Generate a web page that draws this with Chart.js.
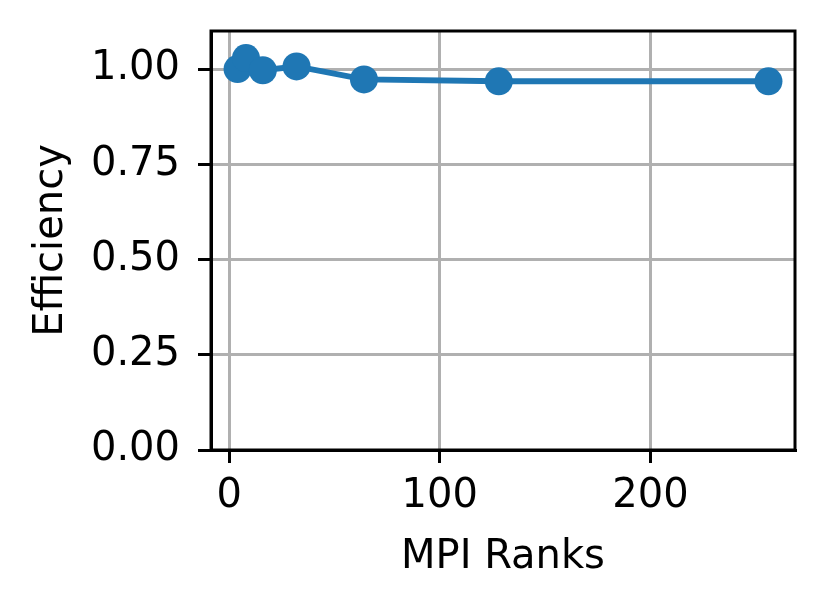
<!DOCTYPE html>
<html lang="en">
<head>
<meta charset="UTF-8">
<title>Efficiency vs MPI Ranks</title>
<script src="https://cdn.jsdelivr.net/npm/chart.js"></script>
<style>
    html, body { margin: 0; padding: 0; background: white; }
    #wrap { width: 823px; height: 610px; }
</style>
</head>
<body>
<div id="wrap"><canvas id="chart" width="823" height="610"></canvas></div>
<script>
// data
const ranks = [4, 8, 16, 32, 64, 128, 256];
const efficiency = [1.000, 1.029, 0.997, 1.007, 0.973, 0.968, 0.968];
const xTicks = [0, 100, 200];
const yTicks = [0, 0.25, 0.5, 0.75, 1.0];

const FONT = { family: 'DejaVu Sans', size: 40 };

// matplotlib style box around the plot area
const boxPlugin = {
    id: 'box',
    afterDatasetsDraw(chart) {
        const a = chart.chartArea;
        const ctx = chart.ctx;
        ctx.save();
        ctx.strokeStyle = '#000';
        ctx.lineWidth = 3;
        ctx.strokeRect(a.left, a.top, a.right - a.left, a.bottom - a.top);
        ctx.restore();
    }
};

new Chart(document.getElementById('chart').getContext('2d'), {
    type: 'line',
    data: {
        datasets: [{
            data: ranks.map((r, i) => ({ x: r, y: efficiency[i] })),
            borderColor: '#1f77b4',
            backgroundColor: '#1f77b4',
            borderWidth: 6,
            pointRadius: 14,
            pointBorderWidth: 0,
            pointHoverRadius: 14,
            tension: 0,
            clip: false
        }]
    },
    options: {
        responsive: false,
        animation: false,
        events: [],
        layout: { padding: { top: 31, right: 28, left: 0, bottom: 0 } },
        plugins: { legend: { display: false }, tooltip: { enabled: false } },
        scales: {
            x: {
                type: 'linear',
                min: -8.6,
                max: 268.6,
                afterBuildTicks: s => { s.ticks = xTicks.map(v => ({ value: v })); },
                afterFit: s => { s.height = 160; s.paddingLeft = 0; s.paddingRight = 0; },
                grid: { color: '#b0b0b0', lineWidth: 3, tickColor: '#000', tickWidth: 3, tickLength: 13 },
                border: { display: true, color: '#000', width: 3 },
                ticks: { color: '#000', font: FONT, padding: 10, maxRotation: 0, callback: v => String(v) },
                title: { display: true, text: 'MPI Ranks', color: '#000', font: FONT, padding: { top: 0, bottom: 28 } }
            },
            y: {
                min: 0,
                max: 1.1,
                afterBuildTicks: s => { s.ticks = yTicks.map(v => ({ value: v })); },
                afterFit: s => { s.width = 211; s.paddingTop = 0; s.paddingBottom = 0; },
                grid: { color: '#b0b0b0', lineWidth: 3, tickColor: '#000', tickWidth: 3, tickLength: 13 },
                border: { display: true, color: '#000', width: 3 },
                ticks: { color: '#000', font: FONT, padding: 18, callback: v => Number(v).toFixed(2) },
                title: { display: true, text: 'Efficiency', color: '#000', font: FONT, padding: { top: 28, bottom: 0 } }
            }
        }
    },
    plugins: [boxPlugin]
});
</script>
</body>
</html>
